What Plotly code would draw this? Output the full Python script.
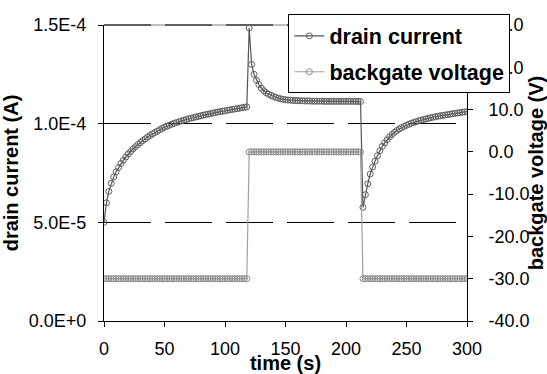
import plotly.graph_objects as go

# ---------------- data ----------------
time_s = list(range(0, 301, 2))

# drain current in microamps (every 2 s)
drain_uA = [
    50.0, 59.9, 65.7, 69.8, 73.0, 75.6, 77.8, 79.8, 81.5, 83.1,
    84.6, 85.9, 87.2, 88.3, 89.4, 90.4, 91.4, 92.3, 93.2, 94.0,
    94.8, 95.5, 96.2, 96.9, 97.6, 98.2, 98.7, 99.2, 99.7, 100.2,
    100.6, 101.0, 101.4, 101.8, 102.1, 102.5, 102.8, 103.1, 103.4, 103.7,
    104.0, 104.3, 104.6, 104.8, 105.1, 105.4, 105.6, 105.9, 106.1, 106.3,
    106.5, 106.8, 107.0, 107.2, 107.4, 107.6, 107.8, 108.1, 108.3, 108.5,
    148.5, 130.0, 125.0, 122.0, 119.8, 118.0, 116.7, 115.7, 114.9, 114.3,
    113.8, 113.3, 112.9, 112.6, 112.3, 112.1, 112.0, 111.9, 111.8, 111.7,
    111.7, 111.6, 111.6, 111.5, 111.5, 111.5, 111.4, 111.4, 111.4, 111.4,
    111.4, 111.3, 111.3, 111.3, 111.3, 111.3, 111.3, 111.3, 111.3, 111.3,
    111.3, 111.3, 111.3, 111.3, 111.3, 111.3, 111.2,
    57.6, 64.0, 69.5, 74.5, 78.0, 81.0, 83.8, 86.3, 88.5, 90.3,
    91.9, 93.3, 94.5, 95.6, 96.5, 97.3, 98.0, 98.6, 99.2, 99.7,
    100.2, 100.6, 101.0, 101.4, 101.8, 102.1, 102.4, 102.7, 103.0, 103.3,
    103.5, 103.8, 104.0, 104.2, 104.4, 104.6, 104.8, 105.0, 105.2, 105.4,
    105.6, 105.8, 105.9, 106.1,
]
drain_A = [v * 1e-6 for v in drain_uA]

# backgate voltage in volts (every 2 s)
backgate_V = [
    -30, -30, -30, -30, -30, -30, -30, -30, -30, -30,
    -30, -30, -30, -30, -30, -30, -30, -30, -30, -30,
    -30, -30, -30, -30, -30, -30, -30, -30, -30, -30,
    -30, -30, -30, -30, -30, -30, -30, -30, -30, -30,
    -30, -30, -30, -30, -30, -30, -30, -30, -30, -30,
    -30, -30, -30, -30, -30, -30, -30, -30, -30, -30,
    0, 0, 0, 0, 0, 0, 0, 0, 0, 0,
    0, 0, 0, 0, 0, 0, 0, 0, 0, 0,
    0, 0, 0, 0, 0, 0, 0, 0, 0, 0,
    0, 0, 0, 0, 0, 0, 0, 0, 0, 0,
    0, 0, 0, 0, 0, 0, 0,
    -30, -30, -30, -30, -30, -30, -30, -30, -30, -30,
    -30, -30, -30, -30, -30, -30, -30, -30, -30, -30,
    -30, -30, -30, -30, -30, -30, -30, -30, -30, -30,
    -30, -30, -30, -30, -30, -30, -30, -30, -30, -30,
    -30, -30, -30, -30,
]

x_ticks = [0, 50, 100, 150, 200, 250, 300]
y_ticks = [0.0, 5e-5, 1e-4, 1.5e-4]
y_ticktext = ["0.0E+0", "5.0E-5", "1.0E-4", "1.5E-4"]
y2_ticks = [-40, -30, -20, -10, 0, 10, 20, 30]
y2_ticktext = ["-40.0", "-30.0", "-20.0", "-10.0", "0.0", "10.0", "20.0", "30.0"]

FONT = "Arial, 'Liberation Sans', sans-serif"
GRID_DASH = "47px,14px"

fig = go.Figure()
fig.add_trace(go.Scatter(
    x=time_s, y=drain_A, name="drain current", mode="lines+markers",
    line=dict(color="#555555", width=1.2),
    marker=dict(symbol="circle-open", size=6, color="#606060", line=dict(width=1)),
    legendgroup="a", yaxis="y",
))
fig.add_trace(go.Scatter(
    x=time_s, y=backgate_V, name="backgate voltage", mode="lines+markers",
    line=dict(color="#a0a0a0", width=1.2),
    marker=dict(symbol="circle-open", size=6, color="#8c8c8c", line=dict(width=1)),
    legendgroup="b", yaxis="y2",
))

fig.update_layout(
    width=547, height=374,
    margin=dict(l=104, r=80, t=25, b=53, autoexpand=False),
    paper_bgcolor="white", plot_bgcolor="white",
    font=dict(family=FONT, size=18, color="black"),
    showlegend=True,
    legend=dict(
        x=0.508, y=1.036, xanchor="left", yanchor="top",
        bgcolor="white", bordercolor="black", borderwidth=1,
        font=dict(family=FONT, size=21.5, color="black", weight="bold"),
        traceorder="grouped", tracegroupgap=5, itemwidth=30,
    ),
    xaxis=dict(
        range=[0, 300], tickvals=x_ticks, ticks="outside", ticklen=5,
        tickcolor="black", showline=True, linecolor="black", linewidth=1,
        showgrid=False, zeroline=False, ticklabelstandoff=6,
        title=dict(text="time (s)", font=dict(size=20, weight="bold"), standoff=0),
        automargin=False,
    ),
    yaxis=dict(
        range=[0, 1.5e-4], tickvals=y_ticks, ticktext=y_ticktext,
        ticks="outside", ticklen=5, tickcolor="black",
        showline=True, linecolor="black", linewidth=1,
        showgrid=True, gridcolor="black", gridwidth=1, griddash=GRID_DASH,
        zeroline=False, ticklabelstandoff=8,
        title=dict(text="drain current (A)", font=dict(size=20, weight="bold"), standoff=6),
        automargin=False,
    ),
    yaxis2=dict(
        range=[-40, 30], tickvals=y2_ticks, ticktext=y2_ticktext,
        overlaying="y", side="right", anchor="x",
        ticks="outside", ticklen=5, tickcolor="black",
        showline=True, linecolor="black", linewidth=1,
        showgrid=False, zeroline=False, ticklabelstandoff=12,
        title=dict(text="backgate voltage (V)", font=dict(size=20, weight="bold"), standoff=4),
        automargin=False,
    ),
    yaxis3=dict(
        range=[-40, 30], tickvals=y2_ticks,
        overlaying="y", side="right", anchor="x",
        ticks="inside", ticklen=6, tickcolor="black",
        showticklabels=False, showline=False, showgrid=False, zeroline=False,
    ),
    shapes=[
        dict(type="line", xref="paper", yref="paper", x0=0, x1=1, y0=1, y1=1,
             line=dict(color="#808080", width=1), layer="below"),
        dict(type="line", xref="paper", yref="paper", x0=0, x1=1, y0=1, y1=1,
             line=dict(color="black", width=1, dash=GRID_DASH), layer="below"),
    ],
)

fig.write_html("out.html")
